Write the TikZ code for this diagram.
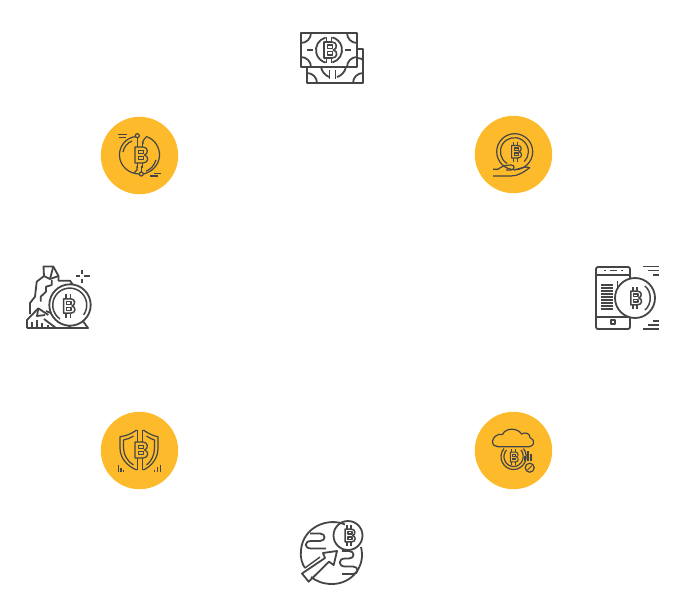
\documentclass[tikz,border=0pt]{standalone}
\definecolor{icondark}{HTML}{454545}
\definecolor{badgeyellow}{HTML}{FDBB2C}
\tikzset{
  thickicon/.style={draw=icondark,line width=1.8pt,line join=round},
  thinicon/.style={draw=icondark,line width=1.2pt,line join=round},
  coinb/.pic={
    \draw (-5,-8) -- (3,-8) .. controls (8.5,-8) and (8.5,-1) .. (4.5,0)
       .. controls (9,1) and (9,8) .. (3,8) -- (-5,8) -- cycle;
    \draw (-1.5,-4.8) -- (3.5,-4.8) -- (3.5,-1.6) -- (-1.5,-1.6) -- cycle;
    \draw (-1.5,1.6) -- (3.5,1.6) -- (3.5,4.8) -- (-1.5,4.8) -- cycle;
    \draw (-2.5,-8) -- (-2.5,-13) (2.5,-8) -- (2.5,-13);
    \draw (-2.5,8) -- (-2.5,13) (2.5,8) -- (2.5,13);
  }
}
\begin{document}
\begin{tikzpicture}[x=1pt,y=-1pt]
  \useasboundingbox (0,0) rectangle (685,611);
  \foreach \cx/\cy in {139.5/155.5,513.5/154.5,139.5/450.5,513.5/450.5}
    \fill[badgeyellow] (\cx,\cy) circle (38.7);
  % banknotes
  \draw[thickicon] (357,49) -- (363,49) -- (363,83) -- (307,83) -- (307,67);
  \draw[thickicon] (357.5,58) .. controls (360,58) and (362,59) .. (363,60);
  \draw[thickicon] (363,73) arc[start angle=270,end angle=180,radius=10];
  \draw[thickicon] (307,73) arc[start angle=270,end angle=360,radius=10];
  \draw[thickicon] (321,67) .. controls (322,72) and (325,75) .. (329,77);
  \draw[thickicon] (346,67) .. controls (345,72) and (341,76) .. (337,77);
  \draw[thickicon] (329.5,70) -- (329.5,79) (335.5,70) -- (335.5,79);
  \draw[thickicon] (301,33) rectangle (357,67);
  \draw[thickicon] (301,43) arc[start angle=90,end angle=0,radius=10];
  \draw[thickicon] (357,43) arc[start angle=90,end angle=180,radius=10];
  \draw[thickicon] (301,57) arc[start angle=270,end angle=360,radius=10];
  \draw[thickicon] (357,57) arc[start angle=270,end angle=180,radius=10];
  \draw[thickicon] (325.6,37.5) arc[start angle=-105,end angle=-255,radius=13];
  \draw[thickicon] (332.4,62.5) arc[start angle=75,end angle=-75,radius=13];
  \draw[thickicon] (307,50) -- (313,50) (345,50) -- (351,50);
  \pic[thickicon,line width=1.6pt] at (329,50) {coinb};
  % coin with circuit
  \draw[thinicon] (137.3,135.7) circle (2);
  \draw[thinicon] (141.3,174) circle (2);
  \draw[thinicon] (135.5,136.5) .. controls (125,138) and (119,147) .. (119.5,156)
    .. controls (120,166) and (129,174) .. (139.3,174);
  \draw[thinicon] (146,136.5) .. controls (155,139) and (160,148) .. (159.5,156)
    .. controls (159,165) and (152,172) .. (143.3,174);
  \draw[thinicon] (123,152) .. controls (124,147) and (127,143) .. (132,141);
  \draw[thinicon] (156,160) .. controls (154,166) and (150,170) .. (146,171);
  \draw[thinicon] (137.3,137.7) -- (137.3,144);
  \draw[thinicon] (141.3,172) -- (141.3,166);
  \draw[thinicon] (146,137) -- (143,141) -- (143,144);
  \draw[thinicon] (137,166) -- (137,170) -- (134,173);
  \draw[thinicon] (118.3,134.3) -- (126.7,134.3) (119,137.7) -- (125.7,137.7);
  \draw[thinicon] (150,176) -- (158.3,176) (154.3,173.3) -- (160.7,173.3);
  \pic[thinicon] at (140,155) {coinb};
  % coin in hand
  \draw[thinicon] (514.7,151.7) circle (18);
  \draw[thinicon] (507,163.5) arc[start angle=122,end angle=405,radius=14];
  \pic[thinicon,scale=0.78] at (515.5,151.7) {coinb};
  \draw[thinicon] (493,169.3) -- (498,169.3) .. controls (502,166) and (506,165) .. (511.3,165)
    .. controls (515,165) and (515,169.5) .. (511,170) -- (506,170);
  \draw[thinicon] (493,176) -- (511,176) .. controls (518,176) and (524,172) .. (529.7,167.7)
    .. controls (526,166) and (522,168) .. (514,170);
  % mine
  \draw[thickicon] (44,276) -- (43.5,266.5) -- (53.3,266.5) -- (58.5,276) -- (50,279) -- cycle;
  \draw[thickicon] (53.3,266.5) -- (50,279);
  \draw[thickicon] (44,276) -- (36.7,281.7) -- (35,296.7) -- (30,303) -- (30,314);
  \draw[thickicon] (58.5,276) -- (58.5,280.7) -- (70,280.7) -- (73,285);
  \draw[thickicon] (51.7,280) -- (51.7,285) -- (46,286.7) -- (46,291.7) -- (40.7,296.7) -- (40.7,301.7);
  \draw[thickicon] (27,328) -- (88,328) -- (80,317);
  \draw[thickicon] (27,328) -- (27,320) -- (38.3,308.3) -- (48.3,315);
  \draw[thickicon] (38.3,308.3) -- (37,316) -- (45,315);
  \draw[thickicon] (46,311) -- (60,317) -- (71,328) (44,319) -- (56,328);
  \foreach \bx/\by in {32/322,37/320,42/323,48/325}
    \draw[thickicon,line width=1.4pt] (\bx,\by) -- (\bx,328);
  \fill[white] (70,305) circle (20.7);
  \draw[thickicon] (70,305) circle (20.7);
  \draw[thickicon,line width=1.5pt] (60,319) arc[start angle=125,end angle=395,radius=17];
  \pic[thickicon,line width=1.5pt,scale=0.9] at (68,306) {coinb};
  \draw[thickicon,line width=1.4pt] (76,276) -- (79.5,276) (84,276) -- (90,276)
    (82,270) -- (82,274) (82,278.5) -- (82,283);
  % phone
  \draw[thickicon,rounded corners=2pt] (596,267) rectangle (630,329);
  \draw[thickicon] (596,275) -- (630,275) (596,317) -- (630,317);
  \draw[thickicon,line width=1.5pt] (604,270.7) -- (606,270.7) (610,270.7) -- (617,270.7) (621,270.7) -- (623,270.7);
  \foreach \ly in {285,288,291,294,297,300,303,306,309}
    \draw[thickicon,line width=1.4pt] (601.3,\ly) -- (613,\ly);
  \draw[thickicon,line width=1.5pt] (611,320) rectangle (615,324);
  \fill[white] (635,298) circle (20);
  \draw[thickicon] (635,298) circle (20);
  \draw[thickicon,line width=1.5pt] (617.3,281) -- (617.3,289);
  \draw[thickicon,line width=1.5pt] (645,286) .. controls (652,292) and (652,304) .. (645,310);
  \pic[thickicon,line width=1.5pt,scale=0.85] at (635,298) {coinb};
  \draw[thickicon,line width=1.5pt] (643,266.7) -- (658.7,266.7) (648,270.7) -- (658.7,270.7) (653,275) -- (658.7,275);
  \draw[thickicon,line width=1.5pt] (653,321) -- (658.7,321) (648,325) -- (658.7,325) (643,329) -- (658.7,329);
  % shield
  \draw[thinicon] (136.7,430) .. controls (131,434) and (126,436) .. (120,436.7) -- (120,448)
    .. controls (120,458) and (127,466) .. (136.7,470);
  \draw[thinicon] (143.3,430) .. controls (149,434) and (154,436) .. (158,436.7) -- (158,448)
    .. controls (158,458) and (152,466) .. (143.3,470);
  \draw[thinicon] (133.5,436) .. controls (130,438) and (127,439.5) .. (123.5,440) -- (123.5,448)
    .. controls (123.5,455) and (128,462) .. (133.5,465);
  \draw[thinicon] (146.5,436) .. controls (150,438) and (152,439.5) .. (154.5,440) -- (154.5,448)
    .. controls (154.5,455) and (151,462) .. (146.5,465);
  \pic[thinicon] at (140,450) {coinb};
  \draw[thinicon] (137.5,437) -- (137.5,430) (142.5,437) -- (142.5,430);
  \draw[thinicon] (137.5,463) -- (137.5,470) (142.5,463) -- (142.5,470);
  \foreach \bx/\by in {118.3/465,121/468,123.7/469.5,154.5/469.5,157.5/467,160.5/465}
    \draw[thinicon] (\bx,\by) -- (\bx,471.5);
  % cloud
  \draw[thinicon] (502,446.7) -- (529,446.7)
    .. controls (534,446.7) and (536,440) .. (530,437.5)
    .. controls (530,433) and (525,432) .. (521.5,434)
    .. controls (518,428) and (506,427) .. (502.5,434.5)
    .. controls (497,433) and (492.5,438) .. (492.5,441.5)
    .. controls (492.5,445) and (495,446.7) .. (498,446.7) -- (502,446.7);
  \draw[thinicon] (504,448.5) .. controls (497,457) and (503,469.5) .. (513.7,469.5)
    .. controls (524,469.5) and (530,457) .. (523.5,448.5);
  \draw[thinicon] (506.5,450) .. controls (501,456) and (505,466.5) .. (513.7,466.5)
    .. controls (522,466.5) and (526,456) .. (521,450);
  \pic[thinicon,line width=1pt,scale=0.62] at (513.5,457) {coinb};
  \draw[thinicon] (529.7,467.7) circle (4.5);
  \draw[thinicon,line width=1pt] (527.5,470) -- (532,465.5);
  \draw[thinicon] (528,451) -- (528,461) (531,454) -- (531,461) (525,456) -- (525,461);
  % globe with arrow
  \draw[thickicon] (345,524.5) .. controls (328,517) and (303,527) .. (301,550)
    .. controls (300,557) and (302,564) .. (305,568);
  \draw[thickicon] (361,547) .. controls (366,566) and (352,584) .. (332,584)
    .. controls (323,584) and (316,581) .. (311,577);
  \draw[thickicon] (348,535.5) circle (14.5);
  \pic[thickicon,line width=1.5pt,scale=0.8] at (349,535.5) {coinb};
  \draw[thickicon] (310,533.5) -- (320,533.5)
    .. controls (326,533.5) and (326,541) .. (320,541) -- (311,541)
    .. controls (304,541) and (304,548.5) .. (311,548.5) -- (326,548.5);
  \draw[thickicon] (342,551) -- (349,551)
    .. controls (355,551) and (355,558.5) .. (349,558.5) -- (345,558.5)
    .. controls (338,558.5) and (338,566.5) .. (345,566.5) -- (353,566.5)
    .. controls (359,566.5) and (359,574) .. (353,574) -- (342,574);
  \draw[thickicon] (302,573.5) -- (325,558) -- (323,553) -- (337,551)
    -- (333.7,565) -- (329,561.7) -- (308.7,581.7) -- cycle;
  \draw[thickicon,line width=1.4pt] (305,568) -- (320,557);
\end{tikzpicture}
\end{document}
